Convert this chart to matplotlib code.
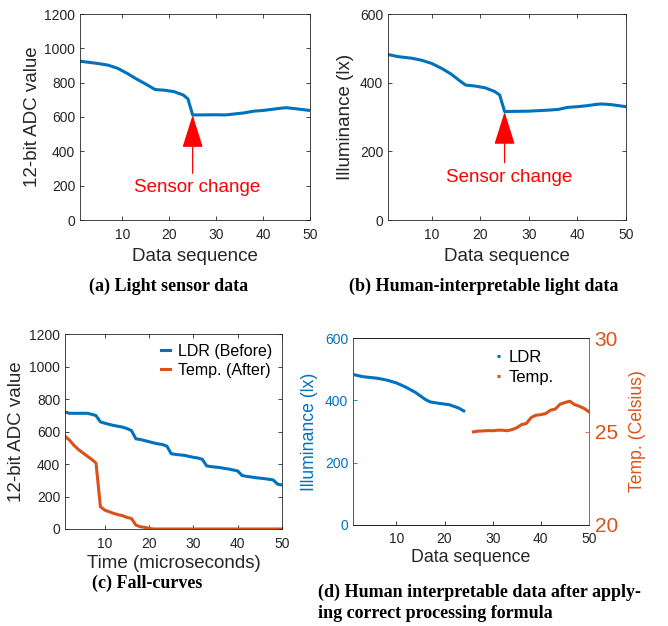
import numpy as np
import matplotlib
matplotlib.use("Agg")
import matplotlib.pyplot as plt

plt.rcParams['font.family'] = ['Liberation Sans', 'DejaVu Sans']

BLUE = '#0072BD'
ORANGE = '#D95319'
DARK = '#262626'

# (a) light sensor raw ADC values
x_a = [1, 3, 5, 7, 9, 11, 13, 15, 16.5, 17, 19, 21, 23, 24, 25, 26, 30, 32,
       34, 36, 38, 40, 42, 44, 45, 47, 50]
adc_a = [925, 918, 911, 902, 884, 855, 822, 792, 768, 760, 756, 748, 728, 705,
         612, 612, 613, 612, 618, 624, 634, 638, 645, 652, 654, 648, 638]

# (b) same data in lux
x_b = [1, 3, 6, 8, 10, 12, 14, 16, 17, 19, 21, 23, 24, 25, 30, 34, 36, 38,
       40, 42, 44, 45, 47, 50]
lux_b = [482, 476, 471, 465, 456, 442, 425, 403, 393, 390, 385, 374, 364, 316,
         317, 320, 322, 328, 330, 333, 337, 338, 336, 330]

# (c) fall-curves
t_c = np.arange(1, 51)
ldr_c = [720, 712, 712, 712, 712, 712, 706, 698, 659, 651, 644, 637, 632, 627,
         618, 606, 555, 551, 544, 537, 530, 524, 520, 510, 463, 459, 456, 453,
         447, 441, 437, 429, 388, 384, 381, 378, 373, 369, 363, 357, 329, 324,
         320, 316, 313, 310, 306, 302, 276, 271]
temp_c = [571, 547, 516, 490, 469, 449, 429, 406, 137, 116, 106, 96, 88, 82,
          71, 65, 24, 14, 10, 4] + [0] * 30

# (d) processed data
x_d_ldr = [1, 3, 6, 8, 10, 12, 14, 16, 17, 19, 21, 23, 24]
lux_d = [483, 476, 471, 465, 456, 442, 425, 403, 395, 390, 386, 375, 366]
x_d_temp = [26, 27, 28, 29, 30, 31, 32, 33, 34, 35, 36, 37, 38, 39, 40, 41,
            42, 43, 44, 45, 46, 47, 48, 49, 50]
temp_d = [24.98, 25.02, 25.03, 25.05, 25.04, 25.07, 25.07, 25.04, 25.1, 25.2,
          25.37, 25.43, 25.75, 25.87, 25.9, 25.96, 26.14, 26.2, 26.46, 26.55,
          26.62, 26.44, 26.35, 26.23, 26.05]

W, H = 668, 626


def box(l, r, t, b):
    return [l / W, (H - b) / H, (r - l) / W, (b - t) / H]


def style(ax):
    ax.tick_params(direction='in', top=True, right=True, labelsize=10,
                   colors=DARK, length=3, width=0.6)
    ax.tick_params(axis='x', pad=6)
    for s in ax.spines.values():
        s.set_color(DARK)
        s.set_linewidth(0.6)


def caption(x, y, txt, ha='center'):
    fig.text(x / W, 1 - y / H, txt, family='Liberation Serif', weight='bold',
             fontsize=13, ha=ha, va='center', color='black')


fig = plt.figure(figsize=(W / 100, H / 100), dpi=100)

# ---- (a)
ax = fig.add_axes(box(80, 310, 14, 220))
ax.plot(x_a, adc_a, color=BLUE, lw=2.2)
ax.set_xlim(1, 50)
ax.set_ylim(0, 1200)
ax.set_xticks([10, 20, 30, 40, 50])
ax.set_yticks(range(0, 1201, 200))
ax.set_xlabel('Data sequence', fontsize=13.5, color=DARK, labelpad=4)
ax.set_ylabel('12-bit ADC value', fontsize=13.5, color=DARK, labelpad=2)
style(ax)
ax.annotate('', xy=(25, 612), xytext=(25, 272),
            arrowprops=dict(arrowstyle='-|>,head_width=0.33,head_length=1.05',
                            color='red', lw=0.9, mutation_scale=20,
                            shrinkA=0, shrinkB=0))
ax.text(26, 190, 'Sensor change', color='red', fontsize=13.5,
        ha='center', va='center')
caption(169, 286, '(a) Light sensor data')

# ---- (b)
ax = fig.add_axes(box(388, 626, 14, 220))
ax.plot(x_b, lux_b, color=BLUE, lw=2.2)
ax.set_xlim(1, 50)
ax.set_ylim(0, 600)
ax.set_xticks([10, 20, 30, 40, 50])
ax.set_yticks([0, 200, 400, 600])
ax.set_xlabel('Data sequence', fontsize=13.5, color=DARK, labelpad=4)
ax.set_ylabel('Illuminance (lx)', fontsize=13.5, color=DARK, labelpad=4)
style(ax)
ax.annotate('', xy=(25, 315), xytext=(25, 167),
            arrowprops=dict(arrowstyle='-|>,head_width=0.33,head_length=1.05',
                            color='red', lw=0.9, mutation_scale=20,
                            shrinkA=0, shrinkB=0))
ax.text(26, 124, 'Sensor change', color='red', fontsize=13.5,
        ha='center', va='center')
caption(484, 286, '(b) Human-interpretable light data')

# ---- (c)
ax = fig.add_axes(box(65, 282, 334, 529))
ax.plot(t_c, ldr_c, color=BLUE, lw=2.2, label='LDR (Before)')
ax.plot(t_c, temp_c, color=ORANGE, lw=2.2, label='Temp. (After)')
ax.set_xlim(1, 50)
ax.set_ylim(0, 1200)
ax.set_xticks([10, 20, 30, 40, 50])
ax.set_yticks(range(0, 1201, 200))
ax.set_xlabel('Time (microseconds)', fontsize=13.5, color=DARK, labelpad=3)
ax.set_ylabel('12-bit ADC value', fontsize=13.5, color=DARK, labelpad=3)
style(ax)
ax.legend(loc='upper right', frameon=False, fontsize=11.5, handlelength=0.6,
          handletextpad=0.5, borderaxespad=0.2, labelspacing=0.25)
caption(147, 583, '(c) Fall-curves')

# ---- (d)
ax = fig.add_axes(box(353, 589, 338, 525))
ax2 = ax.twinx()
ax.plot(x_d_ldr, lux_d, color=BLUE, lw=2.2, label='LDR')
ax2.plot(x_d_temp, temp_d, color=ORANGE, lw=2.2, label='Temp.')
ax.set_xlim(1, 50)
ax.set_ylim(0, 600)
ax2.set_ylim(20, 30)
ax.set_xticks([10, 20, 30, 40, 50])
ax.set_yticks([0, 200, 400, 600])
ax2.set_yticks([20, 25, 30])
ax.set_xlabel('Data sequence', fontsize=12.8, color=DARK, labelpad=2)
ax.set_ylabel('Illuminance (lx)', fontsize=12.7, color=BLUE, labelpad=5)
ax2.set_ylabel('Temp. (Celsius)', fontsize=12.7, color=ORANGE, labelpad=8)
ax.tick_params(axis='x', direction='in', labelsize=10, colors=DARK,
               length=3, width=0.6, pad=5)
ax.tick_params(axis='y', direction='in', labelsize=10, colors=BLUE,
               length=3, width=0.6)
ax2.tick_params(axis='y', direction='in', labelsize=15, colors=ORANGE,
                length=3, width=0.6, pad=4)
for a in (ax, ax2):
    a.spines['top'].set_color(DARK)
    a.spines['bottom'].set_color(DARK)
    a.spines['left'].set_color(BLUE)
    a.spines['right'].set_color(ORANGE)
    for s in a.spines.values():
        s.set_linewidth(0.7)
h1, l1 = ax.get_legend_handles_labels()
h2, l2 = ax2.get_legend_handles_labels()
leg = ax2.legend(h1 + h2, l1 + l2, loc='upper right', frameon=False,
                 fontsize=12, handlelength=0.2, handletextpad=0.5,
                 borderaxespad=0.3, labelspacing=0.3,
                 bbox_to_anchor=(0.9, 1.0))
for ln in leg.get_lines():
    ln.set_solid_capstyle('butt')
caption(318, 592, '(d) Human interpretable data after apply-', ha='left')
caption(318, 614, 'ing correct processing formula', ha='left')

fig.savefig('out.png', dpi=100)
